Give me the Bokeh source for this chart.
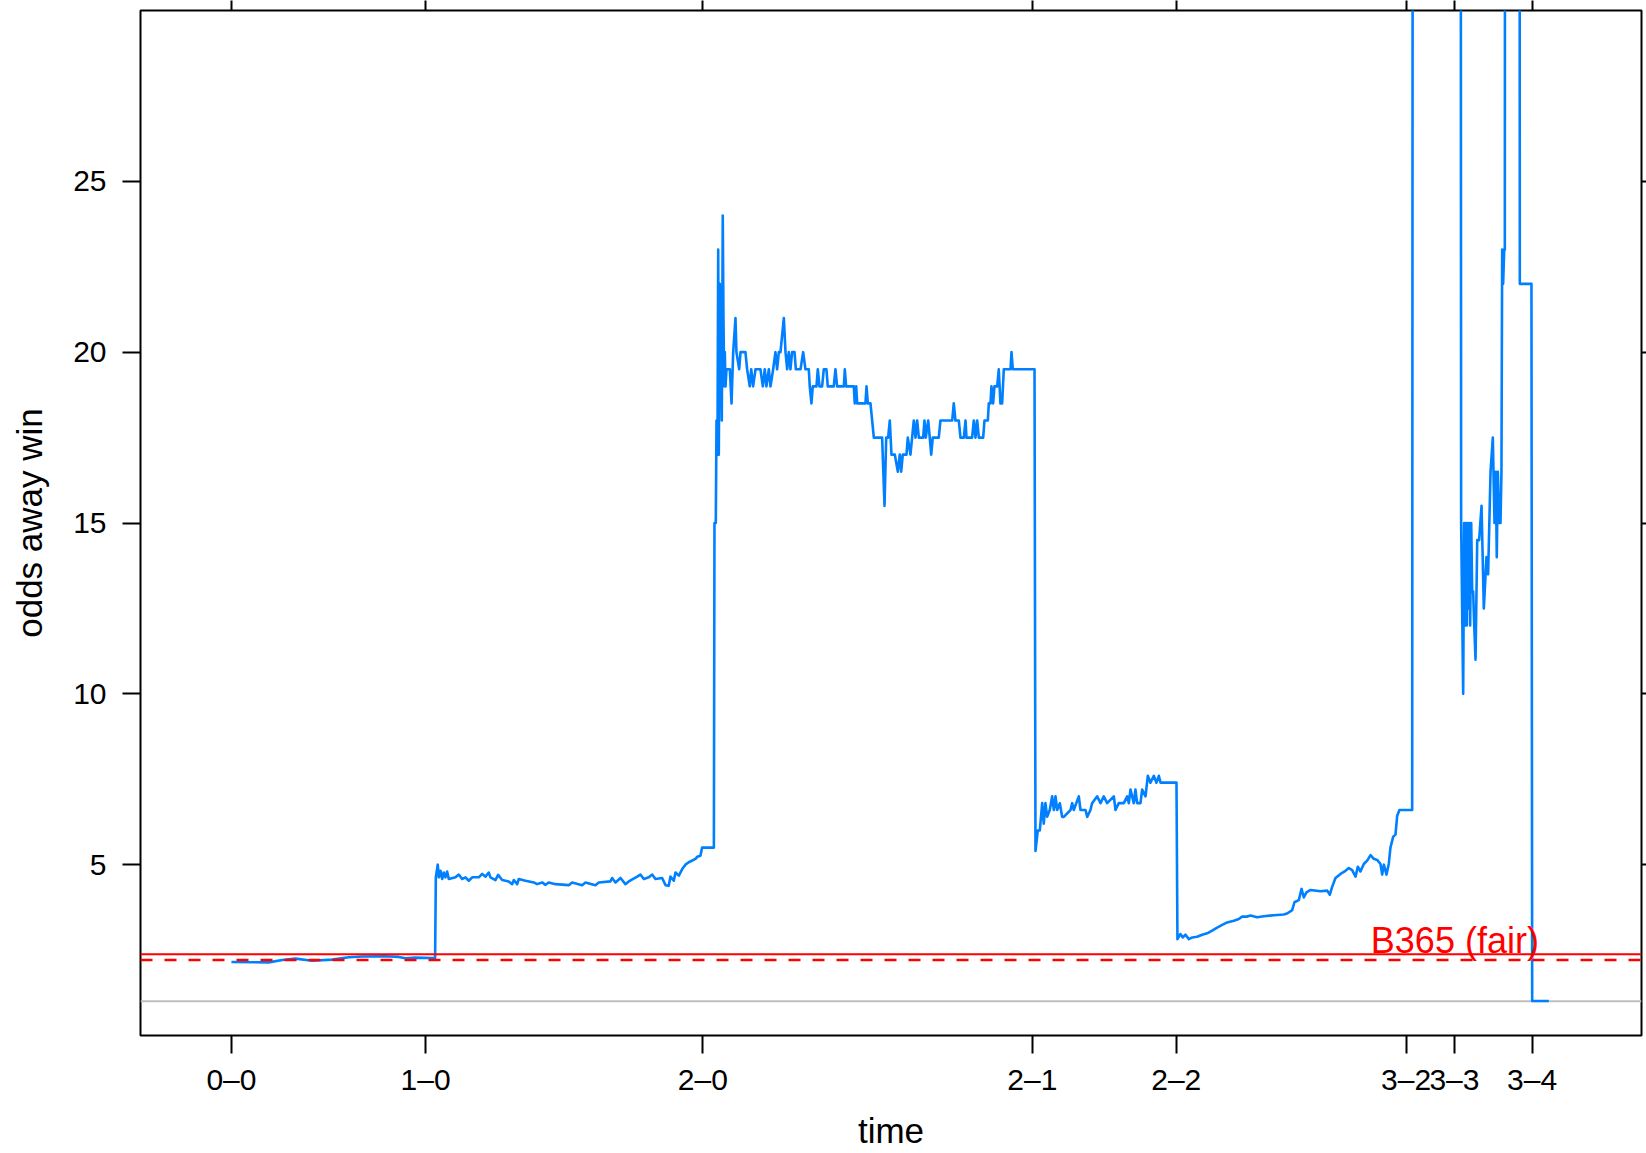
from bokeh.plotting import figure
from bokeh.models import (Range1d, LinearAxis, FixedTicker, Span, Label,
                          CustomJSTickFormatter, ColumnDataSource)
from bokeh.embed import file_html
from bokeh.resources import INLINE

# ---------------- data ----------------
# goal times (minutes from kick-off) and running score labels
goal_times = [0.0, 16.18, 39.28, 66.74, 78.73, 97.88, 101.91, 108.38]
goal_labels = ["0–0", "1–0", "2–0", "2–1", "2–2", "3–2", "3–3", "3–4"]
odds_ticks = [5, 10, 15, 20, 25]

b365_odds = 2.38      # Bet365 pre-match odds (solid red)
fair_odds = 2.21      # fair odds (dashed red)
even_line = 1.0       # odds of 1 (grey)

# in-play odds for an away win, (minute, odds), one list per score state
seg_0_0 = [(0.0, 2.15), (3.11, 2.14), (4.23, 2.21), (5.33, 2.25), (6.73, 2.19),
           (8.39, 2.22), (9.78, 2.29), (10.89, 2.31), (12.83, 2.32), (13.94, 2.30),
           (14.5, 2.26), (15.33, 2.28), (16.73, 2.27), (16.97, 2.27)]

seg_1_0 = [(17.03, 4.63), (17.19, 5.0), (17.28, 4.63), (17.42, 4.82), (17.56, 4.58),
           (17.69, 4.77), (17.83, 4.63), (17.97, 4.8), (18.11, 4.58), (18.67, 4.63),
           (18.94, 4.71), (19.22, 4.58), (19.5, 4.63), (19.78, 4.53), (20.06, 4.63),
           (20.61, 4.63), (20.89, 4.73), (21.17, 4.65), (21.44, 4.77), (21.58, 4.63),
           (22.0, 4.55), (22.22, 4.70), (22.56, 4.55), (23.11, 4.51), (23.39, 4.43),
           (23.53, 4.55), (23.81, 4.43), (23.94, 4.58), (24.5, 4.53), (25.19, 4.48),
           (25.47, 4.43), (25.89, 4.48), (26.17, 4.41), (26.44, 4.48), (27.0, 4.43),
           (28.11, 4.40), (28.39, 4.48), (29.22, 4.40), (29.5, 4.48), (30.33, 4.40),
           (30.61, 4.48), (31.58, 4.51), (31.72, 4.61), (32.0, 4.48), (32.42, 4.61),
           (32.83, 4.43), (33.11, 4.51), (33.81, 4.65), (34.08, 4.71), (34.36, 4.58),
           (34.78, 4.63), (35.06, 4.71), (35.33, 4.58), (35.89, 4.61), (36.17, 4.40),
           (36.44, 4.38), (36.58, 4.65), (36.86, 4.53), (37.0, 4.77), (37.28, 4.68),
           (37.56, 4.87), (37.83, 5.0), (38.11, 5.07), (38.67, 5.17), (38.81, 5.23),
           (39.08, 5.26), (39.22, 5.5), (40.2, 5.5)]

seg_2_0 = [(40.25, 15), (40.36, 15), (40.42, 18), (40.5, 17), (40.56, 23), (40.61, 17),
           (40.69, 22), (40.78, 21), (40.86, 18), (40.94, 24), (41.0, 21), (41.06, 19),
           (41.11, 20), (41.17, 19), (41.25, 19.5), (41.36, 19.5), (41.53, 19.5),
           (41.67, 18.5), (41.81, 20), (42.0, 21), (42.08, 20), (42.31, 19.5), (42.42, 20),
           (42.83, 20), (42.97, 19.5), (43.19, 19), (43.31, 19.5), (43.47, 19),
           (43.67, 19.5), (44.08, 19.5), (44.28, 19), (44.44, 19.5), (44.58, 19),
           (44.78, 19.5), (44.92, 19), (45.14, 19.5), (45.33, 20), (45.47, 19.5),
           (45.61, 20), (45.75, 20), (46.03, 21), (46.17, 20), (46.31, 19.5), (46.44, 20),
           (46.58, 19.5), (46.72, 20), (46.92, 20), (47.03, 19.5), (47.42, 19.5),
           (47.64, 20), (47.83, 19.5), (48.11, 19.5), (48.19, 19), (48.33, 18.5),
           (48.44, 19), (48.75, 19), (48.86, 19.5), (49.0, 19), (49.22, 19), (49.36, 19.5),
           (49.58, 19.5), (49.69, 19), (50.19, 19), (50.33, 19.5), (50.47, 19), (51.03, 19),
           (51.11, 19.5), (51.22, 19), (51.86, 19), (51.94, 18.5), (52.06, 19),
           (52.14, 18.5), (52.83, 18.5), (52.92, 19), (53.03, 18.5), (53.25, 18.5),
           (53.39, 18), (53.53, 17.5), (54.22, 17.5), (54.42, 15.5), (54.56, 17.5),
           (54.72, 17.5), (54.86, 18), (55.0, 17), (55.28, 17), (55.53, 16.5), (55.69, 17),
           (55.81, 16.5), (55.94, 17), (56.25, 17), (56.36, 17.5), (56.58, 17),
           (56.72, 17.5), (56.86, 18), (57.0, 17.5), (57.14, 18), (57.28, 17.5),
           (57.64, 17.5), (57.75, 18), (57.86, 17.5), (58.06, 18), (58.19, 17.5),
           (58.31, 17), (58.44, 17.5), (58.94, 17.5), (59.08, 18), (60.06, 18),
           (60.19, 18.5), (60.33, 18), (60.61, 18), (60.75, 17.5), (61.03, 17.5),
           (61.17, 18), (61.25, 17.5), (61.72, 17.5), (61.86, 18), (62.0, 17.5),
           (62.14, 18), (62.28, 17.5), (62.64, 17.5), (62.75, 18), (63.03, 18),
           (63.11, 18.5), (63.25, 18.5), (63.33, 19), (63.47, 18.5), (63.58, 19),
           (63.81, 19), (63.94, 19.5), (64.08, 18.5), (64.22, 18.5), (64.36, 19.5),
           (64.92, 19.5), (65.0, 20), (65.11, 19.5), (66.92, 19.5)]

seg_2_1 = [(67.0, 5.4), (67.19, 6.0), (67.36, 6.0), (67.56, 6.8), (67.69, 6.2),
           (67.83, 6.8), (67.97, 6.4), (68.19, 6.6), (68.39, 7.0), (68.53, 6.6),
           (68.67, 7.0), (68.81, 6.6), (69.03, 6.8), (69.22, 6.4), (69.36, 6.4),
           (69.92, 6.6), (70.06, 6.8), (70.19, 6.6), (70.61, 7.0), (70.75, 6.6),
           (71.17, 6.6), (71.31, 6.4), (71.58, 6.6), (71.72, 6.8), (72.14, 7.0),
           (72.42, 6.8), (72.69, 7.0), (72.97, 6.8), (73.53, 7.0), (73.67, 6.6),
           (73.94, 6.8), (74.36, 6.8), (74.64, 7.0), (74.78, 6.8), (74.92, 7.2),
           (75.19, 6.8), (75.33, 7.2), (75.47, 6.8), (75.75, 6.8), (75.89, 7.2),
           (76.17, 7.0), (76.36, 7.6), (76.58, 7.4), (76.86, 7.6), (77.08, 7.4),
           (77.28, 7.6), (77.42, 7.4), (78.75, 7.4)]

seg_2_2 = [(78.83, 2.82), (79.08, 2.97), (79.28, 2.87), (79.5, 2.95), (79.78, 2.82),
           (80.06, 2.87), (80.47, 2.89), (80.89, 2.95), (81.31, 2.99), (81.72, 3.07),
           (82.14, 3.16), (82.56, 3.24), (82.97, 3.31), (83.53, 3.36), (83.94, 3.41),
           (84.22, 3.48), (84.64, 3.48), (84.92, 3.51), (85.47, 3.46), (86.03, 3.49),
           (86.86, 3.52), (87.69, 3.54), (87.97, 3.57), (88.39, 3.67), (88.58, 3.9),
           (88.94, 3.96), (89.17, 4.29), (89.36, 4.04), (89.58, 4.19), (89.92, 4.26),
           (90.75, 4.22), (91.31, 4.24), (91.53, 4.12), (91.72, 4.35), (92.0, 4.61),
           (92.42, 4.73), (92.83, 4.82), (93.11, 4.9), (93.39, 4.84), (93.67, 4.65),
           (93.86, 4.94), (94.08, 4.8), (94.36, 5.02), (94.64, 5.12), (94.92, 5.28),
           (95.19, 5.17), (95.47, 5.14), (95.75, 5.02), (95.89, 4.71), (96.03, 5.0),
           (96.25, 4.71), (96.44, 5.02), (96.58, 5.5), (96.81, 5.82), (97.0, 5.88),
           (97.14, 6.43), (97.33, 6.6), (98.39, 6.6)]

seg_3_2 = [(98.47, 60), (102.4, 60)]

seg_3_3 = [(102.47, 15), (102.64, 10), (102.72, 15), (102.81, 12), (102.89, 15),
           (102.94, 12), (103.03, 15), (103.08, 12.5), (103.17, 15), (103.22, 12),
           (103.31, 15), (103.39, 13), (103.47, 13), (103.56, 12), (103.67, 11),
           (103.81, 14.5), (103.97, 14.5), (104.17, 15.5), (104.36, 12.5), (104.58, 14),
           (104.72, 13.5), (104.92, 16.5), (105.11, 17.5), (105.25, 15), (105.36, 16.5),
           (105.44, 14), (105.53, 16.5), (105.64, 15), (105.75, 15), (105.83, 16.5),
           (105.89, 23), (105.97, 22), (106.06, 23), (106.11, 23), (106.16, 60),
           (107.31, 60), (107.36, 22), (108.33, 22)]

seg_3_4 = [(108.39, 1.01), (109.78, 1.01)]

# ---------------- figure ----------------
FONT = "Liberation Sans"
BLUE = "#0080ff"

segments = seg_0_0 + seg_1_0 + seg_2_0 + seg_2_1 + seg_2_2 + seg_3_2 + seg_3_3 + seg_3_4
src = ColumnDataSource(data=dict(minute=[s[0] for s in segments],
                                 odds=[s[1] for s in segments]))

p = figure(width=1646, height=1153, output_backend="svg", toolbar_location=None,
           x_range=Range1d(-7.58, 117.5), y_range=Range1d(0, 30),
           x_axis_type=None, y_axis_type=None,
           min_border_left=140, min_border_right=5,
           min_border_top=10, min_border_bottom=118)
p.outline_line_color = "black"
p.outline_line_width = 2
p.outline_line_alpha = 1
p.background_fill_color = "white"
p.border_fill_color = "white"


def style_axis(ax, ticks, tick_out, show_labels):
    ax.ticker = FixedTicker(ticks=ticks)
    ax.axis_line_color = None
    ax.major_tick_line_color = "black"
    ax.major_tick_line_width = 2
    ax.major_tick_out = tick_out
    ax.major_tick_in = 0
    ax.minor_tick_line_color = None
    ax.major_label_text_font = FONT
    ax.axis_label_text_font = FONT
    ax.axis_label_text_color = "black"
    ax.axis_label_text_font_style = "normal"
    ax.axis_label_text_font_size = "35px"
    ax.major_label_text_font_size = "30px"
    if show_labels:
        ax.major_label_text_color = "black"
    else:
        ax.major_label_text_color = None
        ax.major_label_standoff = 0


score_fmt = CustomJSTickFormatter(args=dict(tv=goal_times, tl=goal_labels), code="""
let best = 0;
for (let i = 0; i < tv.length; i++) {
  if (Math.abs(tv[i] - tick) < Math.abs(tv[best] - tick)) best = i;
}
return tl[best];
""")

xb = LinearAxis(axis_label="time", formatter=score_fmt)
style_axis(xb, goal_times, 18, True)
xb.major_label_standoff = 9
xb.axis_label_standoff = 12
p.add_layout(xb, "below")

xt = LinearAxis()
style_axis(xt, goal_times, 10, False)
p.add_layout(xt, "above")

yl = LinearAxis(axis_label="odds away win")
style_axis(yl, odds_ticks, 18, True)
yl.major_label_standoff = 16
yl.axis_label_standoff = 21
p.add_layout(yl, "left")

yr = LinearAxis()
style_axis(yr, odds_ticks, 5, False)
p.add_layout(yr, "right")

p.add_layout(Span(location=even_line, dimension="width", line_color="#bebebe",
                  line_width=2, level="underlay"))

p.line("minute", "odds", source=src, line_color=BLUE, line_width=2.6,
       line_join="round")

p.add_layout(Span(location=b365_odds, dimension="width", line_color="#ff0000",
                  line_width=2))
p.add_layout(Span(location=fair_odds, dimension="width", line_color="#ff0000",
                  line_width=2.4, line_dash="12 12"))
p.add_layout(Label(x=108.95, y=b365_odds, y_offset=14, text="B365 (fair)",
                   text_align="right", text_baseline="alphabetic", text_font=FONT,
                   text_font_size="36px", text_color="#ff0000"))

open("out.html", "w").write(file_html(p, INLINE))
